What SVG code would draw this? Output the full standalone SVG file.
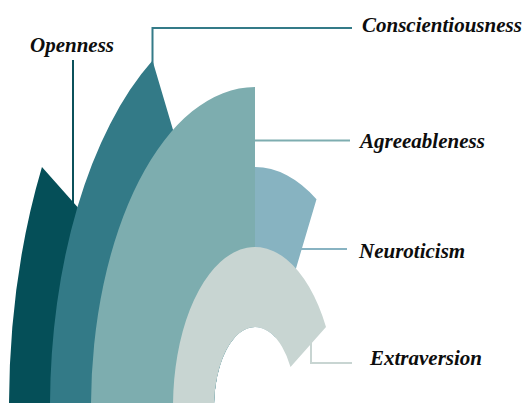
<svg xmlns="http://www.w3.org/2000/svg" width="525" height="403" viewBox="0 0 525 403">
  <style>
    .label { font-family: "Liberation Serif", "Times New Roman", serif; font-size: 21px; font-weight: bold; font-style: italic; fill: #0d0d0d; }
    .lead { fill: none; stroke-width: 2; }
  </style>
  <rect width="525" height="403" fill="#ffffff"/>

  <!-- leader lines from each band to its label -->
  <g id="connectors">
    <polyline class="lead" stroke="#0b515b" points="73,60 73,203"/>
    <polyline class="lead" stroke="#347b88" points="152.5,66 152.5,28 352,28"/>
    <polyline class="lead" stroke="#7eadb0" points="250,140.5 350,140.5"/>
    <polyline class="lead" stroke="#88b3c2" points="296,249 347,249"/>
    <polyline class="lead" stroke="#c8d5d2" points="311,335 311,363 352,363"/>
  </g>

  <!-- radial bands, centre (255,407), ring step 41 x 80; stacking order matters -->
  <g id="openness">
    <path fill="#054f58" d="M 9 407 A 246 480 0 0 1 41.96 167 L 219.49 367 A 41 80 0 0 0 214 407 Z"/>
    <text class="label" x="30" y="52">Openness</text>
  </g>
  <g id="conscientiousness">
    <path fill="#337a87" d="M 50 407 A 205 400 0 0 1 152.5 60.59 L 234.5 337.72 A 41 80 0 0 0 214 407 Z"/>
    <text class="label" x="362" y="32">Conscientiousness</text>
  </g>
  <g id="neuroticism">
    <path fill="#87b3c1" d="M 132 407 A 123 240 0 0 1 316.5 199.15 L 275.5 337.72 A 41 80 0 0 0 214 407 Z"/>
    <text class="label" x="359" y="258">Neuroticism</text>
  </g>
  <g id="agreeableness">
    <path fill="#7dadaf" d="M 91 407 A 164 320 0 0 1 255 87 L 255 327 A 41 80 0 0 0 214 407 Z"/>
    <text class="label" x="360" y="148">Agreeableness</text>
  </g>
  <g id="extraversion">
    <path fill="#c8d5d2" d="M 173 407 A 82 160 0 0 1 326.01 327 L 290.51 367 A 41 80 0 0 0 214 407 Z"/>
    <text class="label" x="370" y="365">Extraversion</text>
  </g>
</svg>
